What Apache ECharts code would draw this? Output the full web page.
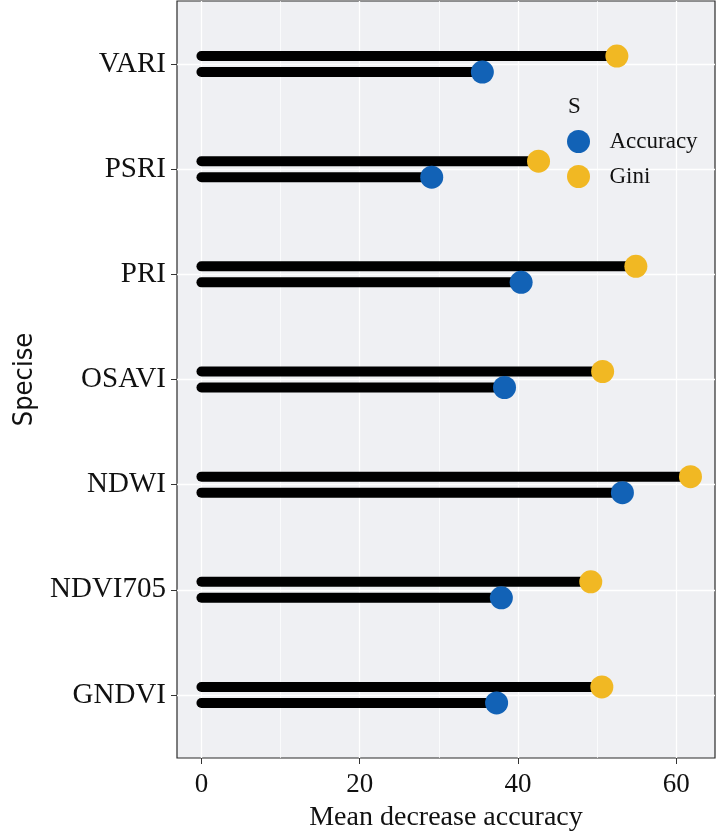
<!DOCTYPE html>
<html>
<head>
<meta charset="utf-8">
<script src="https://cdn.jsdelivr.net/npm/echarts@6/dist/echarts.min.js"></script>
<style>
  html, body { margin: 0; padding: 0; background: #fff; }
  #chart { width: 720px; height: 836px; }
</style>
</head>
<body>
<div id="chart"></div>
<script>
// bottom to top, as on the y axis
const species = ['GNDVI', 'NDVI705', 'NDWI', 'OSAVI', 'PRI', 'PSRI', 'VARI']
const accuracy = [37.3, 37.9, 53.2, 38.3, 40.4, 29.1, 35.5]
const gini = [50.6, 49.2, 61.8, 50.7, 54.9, 42.6, 52.5]
const xTicks = [0, 20, 40, 60]
const xMinorTicks = [10, 30, 50]
const yTicks = [0, 1, 2, 3, 4, 5, 6]

const serif = "'Liberation Serif', 'Times New Roman', serif"
const blue = '#1262b6'
const yellow = '#f1b823'
const dodge = 8

const toPoints = (vals) => vals.map((v, i) => [v, i])

const segment = (off) => (params, api) => {
  const s = api.coord([0, api.value(1)])
  const e = api.coord([api.value(0), api.value(1)])
  return {
    type: 'line',
    shape: { x1: s[0], y1: s[1] + off, x2: e[0], y2: e[1] + off },
    style: { stroke: '#000', lineWidth: 10, lineCap: 'round' }
  }
}

const myChart = echarts.init(document.getElementById('chart'))
const option = {
  animation: false,
  title: {
    text: 'S',
    left: 563,
    top: 90,
    textStyle: { fontFamily: serif, fontSize: 23, fontWeight: 'normal', color: '#111' }
  },
  legend: {
    data: ['Accuracy', 'Gini'],
    orient: 'vertical',
    left: 562,
    top: 125,
    icon: 'circle',
    itemWidth: 52,
    itemHeight: 23,
    itemGap: 12,
    textStyle: { fontFamily: serif, fontSize: 23, color: '#111', padding: [10, 0, 0, 0] }
  },
  grid: {
    left: 177,
    right: 5,
    top: 1,
    bottom: 78,
    outerBoundsMode: 'none',
    show: true,
    backgroundColor: '#eff0f3',
    borderColor: '#2a2a2a',
    borderWidth: 1.2
  },
  xAxis: [
    {
      type: 'value',
      min: -3.09,
      max: 64.9,
      name: 'Mean decrease accuracy',
      nameLocation: 'middle',
      nameGap: 46,
      nameTextStyle: { fontFamily: serif, fontSize: 28, color: '#111' },
      axisLine: { show: false, onZero: false },
      axisTick: { show: true, length: 6, customValues: xTicks, lineStyle: { color: '#333' } },
      axisLabel: { customValues: xTicks, fontFamily: serif, fontSize: 27, color: '#111', margin: 13 },
      splitLine: { show: true, lineStyle: { color: '#ffffff', width: 1.3 } }
    },
    {
      type: 'value',
      min: -3.09,
      max: 64.9,
      position: 'bottom',
      axisLine: { show: false, onZero: false },
      axisTick: { show: false, customValues: xMinorTicks },
      axisLabel: { show: false },
      splitLine: { show: true, lineStyle: { color: '#ffffff', width: 0.7 } }
    }
  ],
  yAxis: {
    type: 'value',
    min: -0.6,
    max: 6.6,
    name: 'Specise',
    nameLocation: 'middle',
    nameGap: 139,
    nameTextStyle: {
      fontFamily: "'Liberation Sans Narrow', 'DejaVu Sans Condensed', sans-serif",
      fontSize: 27,
      color: '#111'
    },
    axisLine: { show: false, onZero: false },
    axisTick: { show: true, length: 6, customValues: yTicks, lineStyle: { color: '#333' } },
    axisLabel: {
      customValues: yTicks,
      formatter: (v) => species[Math.round(v)],
      fontFamily: serif,
      fontSize: 29,
      color: '#111',
      margin: 11
    },
    splitLine: { show: true, lineStyle: { color: '#ffffff', width: 1.3 } }
  },
  series: [
    {
      name: 'Gini line',
      type: 'custom',
      renderItem: segment(-dodge),
      encode: { x: 0, y: 1 },
      data: toPoints(gini),
      z: 2
    },
    {
      name: 'Accuracy line',
      type: 'custom',
      renderItem: segment(dodge),
      encode: { x: 0, y: 1 },
      data: toPoints(accuracy),
      z: 2
    },
    {
      name: 'Gini',
      type: 'scatter',
      symbolSize: 23,
      symbolOffset: [0, -dodge],
      itemStyle: { color: yellow, opacity: 1 },
      data: toPoints(gini),
      z: 3
    },
    {
      name: 'Accuracy',
      type: 'scatter',
      symbolSize: 23,
      symbolOffset: [0, dodge],
      itemStyle: { color: blue, opacity: 1 },
      data: toPoints(accuracy),
      z: 3
    }
  ]
}
myChart.setOption(option)
window.addEventListener('resize', () => {
  myChart.resize()
})
</script>
</body>
</html>
